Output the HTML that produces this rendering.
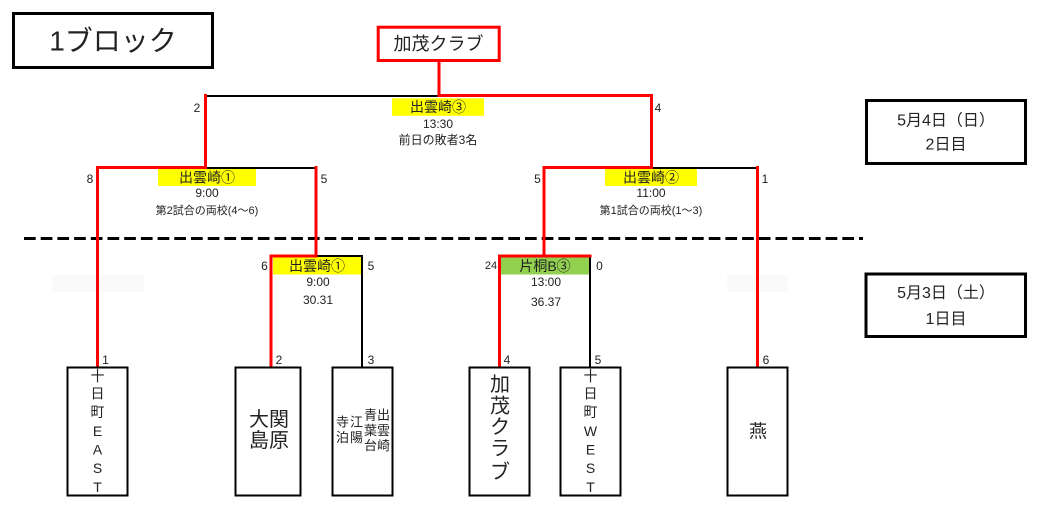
<!DOCTYPE html>
<html>
<head>
<meta charset="utf-8">
<style>
html,body{margin:0;padding:0;background:#fff;}
svg{display:block;}
text{font-family:"Liberation Sans","Noto Sans CJK JP",sans-serif;fill:#222;dominant-baseline:central;text-anchor:middle;}
</style>
</head>
<body>
<svg width="1041" height="507" viewBox="0 0 1041 507" xmlns="http://www.w3.org/2000/svg">
  <rect x="0" y="0" width="1041" height="507" fill="#fff"/>
  <!-- faint rects -->
  <rect x="52" y="275" width="92" height="17" fill="#fafafa"/>
  <rect x="727" y="275" width="61" height="17" fill="#fafafa"/>

  <!-- title -->
  <rect x="13.5" y="13.5" width="199" height="54" fill="#fff" stroke="#000" stroke-width="3"/>
  <text x="113" y="41" font-size="28">1ブロック</text>

  <!-- winner box -->
  <rect x="378.2" y="27.2" width="121" height="33.3" fill="#fff" stroke="#f00" stroke-width="3"/>
  <text x="438.5" y="44" font-size="18">加茂クラブ</text>

  <!-- yellow/green labels -->
  <rect x="392" y="98.3" width="92" height="17.5" fill="#ffff00"/>
  <rect x="158" y="169" width="98" height="17" fill="#ffff00"/>
  <rect x="605" y="169" width="92" height="17" fill="#ffff00"/>
  <rect x="273" y="257" width="88" height="17.5" fill="#ffff00"/>
  <rect x="501" y="257" width="88" height="17.5" fill="#92d050"/>

  <!-- dashed line -->
  <line x1="24" y1="238.5" x2="863" y2="238.5" stroke="#000" stroke-width="3" stroke-dasharray="11.7 5"/>

  <!-- black lines -->
  <g stroke="#000" stroke-width="2" fill="none">
    <line x1="204" y1="96" x2="439" y2="96"/>
    <line x1="205" y1="168" x2="316" y2="168"/>
    <line x1="651" y1="168" x2="758" y2="168"/>
    <line x1="316" y1="256" x2="363" y2="256"/>
    <line x1="362" y1="255" x2="362" y2="367"/>
    <line x1="590" y1="255" x2="590" y2="367"/>
  </g>

  <!-- red lines -->
  <g stroke="#f00" stroke-width="3" fill="none" stroke-linecap="square">
    <line x1="439" y1="61" x2="439" y2="95.5"/>
    <line x1="439" y1="95.5" x2="651.5" y2="95.5"/>
    <line x1="205.5" y1="95.5" x2="205.5" y2="167.5"/>
    <line x1="651.5" y1="95.5" x2="651.5" y2="167.5"/>
    <line x1="97.5" y1="167.5" x2="205.5" y2="167.5"/>
    <line x1="544" y1="167.5" x2="651.5" y2="167.5"/>
    <line x1="97.5" y1="167.5" x2="97.5" y2="366"/>
    <line x1="757.5" y1="167.5" x2="757.5" y2="366"/>
    <line x1="316" y1="167.5" x2="316" y2="256"/>
    <line x1="544" y1="167.5" x2="544" y2="256"/>
    <line x1="271" y1="256" x2="316" y2="256"/>
    <line x1="271" y1="256" x2="271" y2="366"/>
    <line x1="499.5" y1="256" x2="590" y2="256"/>
    <line x1="499.5" y1="256" x2="499.5" y2="366"/>
  </g>

  <!-- match labels -->
  <text x="438" y="107" font-size="14">出雲崎③</text>
  <text x="438" y="124" font-size="12">13:30</text>
  <text x="438" y="140" font-size="12">前日の敗者3名</text>

  <text x="207" y="177.5" font-size="14">出雲崎①</text>
  <text x="207" y="193" font-size="12">9:00</text>
  <text x="207" y="211" font-size="11">第2試合の両校(4〜6)</text>

  <text x="651" y="177.5" font-size="14">出雲崎②</text>
  <text x="651" y="193" font-size="12">11:00</text>
  <text x="651" y="211" font-size="11">第1試合の両校(1〜3)</text>

  <text x="317" y="266" font-size="14">出雲崎①</text>
  <text x="318" y="282" font-size="12">9:00</text>
  <text x="318" y="300" font-size="12">30.31</text>

  <text x="545" y="266" font-size="14">片桐B③</text>
  <text x="546" y="282" font-size="12">13:00</text>
  <text x="546" y="302" font-size="12">36.37</text>

  <!-- score numbers -->
  <g font-size="12">
    <text x="197" y="108">2</text>
    <text x="658" y="108">4</text>
    <text x="90" y="179">8</text>
    <text x="324" y="179">5</text>
    <text x="537.5" y="179">5</text>
    <text x="765" y="179">1</text>
    <text x="264.5" y="266">6</text>
    <text x="371" y="266">5</text>
    <text x="491" y="266" font-size="11">24</text>
    <text x="599.5" y="266">0</text>
    <text x="105.5" y="360">1</text>
    <text x="279" y="360">2</text>
    <text x="371" y="360">3</text>
    <text x="507" y="360">4</text>
    <text x="598" y="360">5</text>
    <text x="766" y="360">6</text>
  </g>

  <!-- date boxes -->
  <rect x="866.5" y="100.5" width="159" height="63" fill="#fff" stroke="#000" stroke-width="3"/>
  <text x="946" y="121" font-size="16">5月4日（日）</text>
  <text x="946" y="145" font-size="16">2日目</text>
  <rect x="866" y="274" width="159.5" height="62.5" fill="#fff" stroke="#000" stroke-width="3"/>
  <text x="946" y="293.5" font-size="16">5月3日（土）</text>
  <text x="946" y="319.5" font-size="16">1日目</text>

  <!-- team boxes -->
  <g fill="#fff" stroke="#000" stroke-width="2">
    <rect x="67.5" y="367.5" width="60" height="128"/>
    <rect x="235.5" y="367.5" width="65" height="128"/>
    <rect x="332.5" y="367.5" width="60" height="128"/>
    <rect x="469.5" y="367.5" width="60" height="128"/>
    <rect x="560.5" y="367.5" width="60" height="128"/>
    <rect x="727.5" y="367.5" width="60" height="128"/>
  </g>

  <!-- 十日町EAST -->
  <g font-size="14">
    <text x="97.5" y="376">十</text>
    <text x="97.5" y="393.5">日</text>
    <text x="97.5" y="412">町</text>
    <text x="97.5" y="431">E</text>
    <text x="97.5" y="449.5">A</text>
    <text x="97.5" y="468">S</text>
    <text x="97.5" y="487">T</text>
  </g>

  <!-- 大関島原 -->
  <g font-size="20">
    <text x="259" y="420">大</text>
    <text x="279" y="420">関</text>
    <text x="259" y="441">島</text>
    <text x="279" y="441">原</text>
  </g>

  <!-- 出雲崎 青葉台 江陽 寺泊 -->
  <g font-size="13">
    <text x="383.5" y="415">出</text>
    <text x="383.5" y="430.5">雲</text>
    <text x="383.5" y="445.5">崎</text>
    <text x="370.5" y="415">青</text>
    <text x="370.5" y="430.5">葉</text>
    <text x="370.5" y="445.5">台</text>
    <text x="356.5" y="422">江</text>
    <text x="356.5" y="437.5">陽</text>
    <text x="342.5" y="422">寺</text>
    <text x="342.5" y="437.5">泊</text>
  </g>

  <!-- 加茂クラブ -->
  <g font-size="20">
    <text x="500" y="385">加</text>
    <text x="500" y="406.5">茂</text>
    <text x="500" y="427.5">ク</text>
    <text x="500" y="449">ラ</text>
    <text x="500" y="472.5">ブ</text>
  </g>

  <!-- 十日町WEST -->
  <g font-size="14">
    <text x="590.5" y="376">十</text>
    <text x="590.5" y="393.5">日</text>
    <text x="590.5" y="412">町</text>
    <text x="590.5" y="431">W</text>
    <text x="590.5" y="449.5">E</text>
    <text x="590.5" y="468">S</text>
    <text x="590.5" y="487">T</text>
  </g>

  <!-- 燕 -->
  <text x="758" y="431.5" font-size="18">燕</text>
</svg>
</body>
</html>
